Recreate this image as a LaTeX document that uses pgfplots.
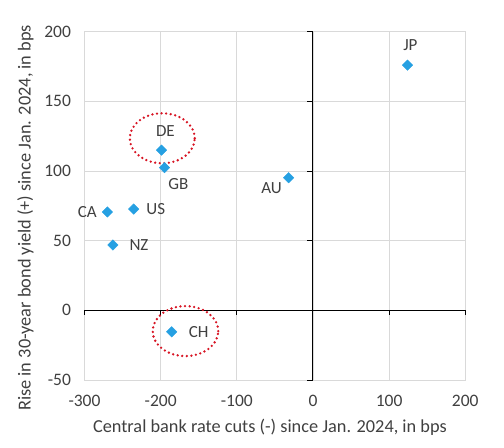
\documentclass[border=0pt]{standalone}
\usepackage{pgfplots}
\pgfplotsset{compat=1.18}
\usepackage{fontspec}
\setmainfont{Carlito}
\definecolor{mkblue}{RGB}{38,160,226}
\definecolor{dotred}{RGB}{215,20,35}
\definecolor{txt}{RGB}{64,64,64}
\definecolor{gridc}{RGB}{217,217,217}
\begin{document}
\begin{tikzpicture}
\begin{axis}[
  scale only axis,
  width=380.8bp, height=348.3bp,
  xmin=-300, xmax=200, ymin=-50, ymax=200,
  xtick={-300,-200,-100,0,100,200},
  ytick={-50,0,50,100,150,200},
  grid=major,
  major grid style={gridc, line width=0.75bp},
  axis line style={gridc, line width=0.75bp},
  major tick length=0pt,
  tick style={draw=none},
  ticklabel style={font=\fontsize{17.5bp}{20bp}\selectfont, text=txt},
  /pgf/number format/assume math mode=true,
  xticklabel style={yshift=-12bp},
  yticklabel style={xshift=-10bp},
  xlabel={Central bank rate cuts (-) since Jan. 2024, in bps},
  ylabel={Rise in 30-year bond yield (+) since Jan. 2024, in bps},
  label style={font=\fontsize{18.3bp}{21bp}\selectfont, text=txt},
  xlabel style={yshift=-5bp, xshift=-5bp},
  ylabel style={yshift=4bp, xshift=-12bp},
  clip=false,
]
\coordinate (bl) at (rel axis cs:0,0);
% zero lines and tick marks
\draw[black, line width=1bp] (axis cs:0,-50) -- (axis cs:0,200);
\draw[black, line width=1bp] (axis cs:-300,0) -- (axis cs:200,0);
\draw[black, line width=1bp] (axis cs:0,-50) -- ++(-6bp,0bp);
\draw[black, line width=1bp] (axis cs:0,0) -- ++(-6bp,0bp);
\draw[black, line width=1bp] (axis cs:0,50) -- ++(-6bp,0bp);
\draw[black, line width=1bp] (axis cs:0,100) -- ++(-6bp,0bp);
\draw[black, line width=1bp] (axis cs:0,150) -- ++(-6bp,0bp);
\draw[black, line width=1bp] (axis cs:0,200) -- ++(-6bp,0bp);
\draw[black, line width=1bp] (axis cs:-300,0) -- ++(0bp,-5bp);
\draw[black, line width=1bp] (axis cs:-200,0) -- ++(0bp,-5bp);
\draw[black, line width=1bp] (axis cs:-100,0) -- ++(0bp,-5bp);
\draw[black, line width=1bp] (axis cs:0,0) -- ++(0bp,-5bp);
\draw[black, line width=1bp] (axis cs:100,0) -- ++(0bp,-5bp);
\draw[black, line width=1bp] (axis cs:200,0) -- ++(0bp,-5bp);
\addplot[only marks, mark=square*, mark size=3.7bp, mark options={rotate=45, fill=mkblue, draw=mkblue}]
coordinates {
(124,176) (-199,115) (-195,102.4) (-32,95.2) (-270,70.6) (-235.4,72.7) (-262.6,46.9) (-185.5,-15.4)
};
% ellipses
\draw[dotred, line width=2.6bp, line cap=round, dash pattern=on 0bp off 4.6bp] (axis cs:-197.9,123.5) ellipse [x radius=32.5bp, y radius=25bp];
\draw[dotred, line width=2.6bp, line cap=round, dash pattern=on 0bp off 4.6bp] (axis cs:-167.4,-14.9) ellipse [x radius=32.8bp, y radius=25bp];
% labels
\begin{scope}[every node/.style={font=\fontsize{17bp}{20bp}\selectfont, text=txt, inner sep=0pt}]
\node at (axis cs:124,176) [yshift=20bp, xshift=3bp] {JP};
\node at (axis cs:-199,115) [yshift=19bp, xshift=4bp] {DE};
\node at (axis cs:-195,102.4) [yshift=-16bp, xshift=14bp] {GB};
\node at (axis cs:-32,95.2) [yshift=-10bp, xshift=-17bp] {AU};
\node at (axis cs:-270,70.6) [xshift=-20bp] {CA};
\node at (axis cs:-235.4,72.7) [xshift=22bp] {US};
\node at (axis cs:-262.6,46.9) [xshift=26bp] {NZ};
\node at (axis cs:-185.5,-15.4) [xshift=27bp] {CH};
\end{scope}
\end{axis}
\pgfresetboundingbox
\path (bl) ++(-84.5bp,-68bp) rectangle ++(504bp,448bp);
\end{tikzpicture}
\end{document}
